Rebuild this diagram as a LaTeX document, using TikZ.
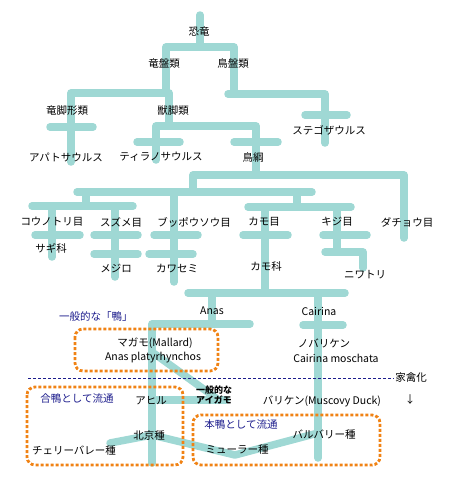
\documentclass[tikz,border=0pt]{standalone}
\usepackage{fontspec}
\setmainfont{Noto Sans CJK JP}
\usepackage{xcolor}
\definecolor{treec}{HTML}{9FD8D4}
\definecolor{dotc}{HTML}{F08214}
\definecolor{navy1}{HTML}{1C1C8C}
\tikzset{
  limb/.style={draw=treec, line width=7.5pt, line cap=round, line join=round},
  grp/.style={draw=dotc, line width=2.8pt, dash pattern=on 3pt off 2pt, rounded corners=8pt},
  lbl/.style={inner sep=0pt, font=\fontsize{10.5}{12}\selectfont},
  note/.style={lbl, text=navy1},
  small/.style={inner sep=0pt, align=center, font=\fontsize{9}{10.5}\selectfont\bfseries}}

\begin{document}
\begin{tikzpicture}[x=1pt, y=-1pt]
\useasboundingbox (0,0) rectangle (456,480);
% tree
\draw[limb] (200,15) -- (200,47);
\draw[limb] (166,93) -- (166,47) -- (234,47) -- (234,94);
\draw[limb] (228,94) -- (325,94) -- (325,143);
\draw[limb] (305,115) -- (347,115);
\draw[limb] (71,162) -- (71,93) -- (169,93) -- (169,126);
\draw[limb] (50,127) -- (93,127);
\draw[limb] (156,160) -- (156,126) -- (256,126) -- (256,175);
\draw[limb] (137,142) -- (180,142);
\draw[limb] (234,142) -- (278,142);
\draw[limb] (193,192) -- (193,175) -- (404,175) -- (404,238);
\draw[limb] (77,192) -- (312,192);
\draw[limb] (86,192) -- (86,206);
\draw[limb] (32,206) -- (133,206);
\draw[limb] (52,206) -- (52,257);
\draw[limb] (115,206) -- (115,277);
\draw[limb] (35,235) -- (80,235);
\draw[limb] (94,235) -- (138,235);
\draw[limb] (94,254) -- (138,254);
\draw[limb] (174,192) -- (174,282);
\draw[limb] (154,235) -- (198,235);
\draw[limb] (149,254) -- (193,254);
\draw[limb] (297,192) -- (297,207);
\draw[limb] (248,207) -- (351,207);
\draw[limb] (265,207) -- (265,293);
\draw[limb] (243,235) -- (288,235);
\draw[limb] (337,207) -- (337,252);
\draw[limb] (323,235) -- (367,235);
\draw[limb] (325,252) -- (363,252) -- (363,268);
\draw[limb] (188,293) -- (345,293);
\draw[limb] (212,293) -- (212,324);
\draw[limb] (152,463) -- (152,324) -- (250,324);
\draw[limb] (318,293) -- (318,458);
\draw[limb] (303,325) -- (343,325);
\draw[limb] (152,352) -- (216,398);
\draw[limb] (152,400) -- (226,400);
\draw[limb] (110,443) -- (152,435) -- (235,455) -- (318,433);
% groups
\draw[grp] (75,329) rectangle (218,371);
\draw[grp] (27,387) rectangle (183,465);
\draw[grp] (193,415) rectangle (380,465);
% labels
\node[lbl] (kyoryu) at (199,32) {恐竜};
\node[lbl] (ryuban) at (164,63) {竜盤類};
\node[lbl] (choban) at (233,63) {鳥盤類};
\node[lbl] (ryukyaku) at (67,111) {竜脚形類};
\node[lbl] (juukyaku) at (173,111) {獣脚類};
\node[lbl] (stego) at (329,130) {ステゴザウルス};
\node[lbl] (apato) at (66,157) {アパトサウルス};
\node[lbl] (tyranno) at (161,157) {ティラノサウルス};
\node[lbl] (chokou) at (253,157) {鳥綱};
\node[lbl] (kounotori) at (52,222) {コウノトリ目};
\node[lbl] (suzume) at (121,222) {スズメ目};
\node[lbl] (buppo) at (194,222) {ブッポウソウ目};
\node[lbl] (kamomoku) at (264,222) {カモ目};
\node[lbl] (kiji) at (337,222) {キジ目};
\node[lbl] (dacho) at (407,222) {ダチョウ目};
\node[lbl] (sagi) at (51,248) {サギ科};
\node[lbl] (mejiro) at (116,269) {メジロ};
\node[lbl] (kawasemi) at (177,269) {カワセミ};
\node[lbl] (kamoka) at (266,266) {カモ科};
\node[lbl] (niwatori) at (365,275) {ニワトリ};
\node[lbl] (anas) at (212,311) {Anas};
\node[lbl] (cairina) at (319,311) {Cairina};
\node[note] (ippan) at (96,317) {一般的な「鴨」};
\node[lbl] (magamo) at (155,343) {マガモ(Mallard)};
\node[lbl] (magamola) at (153,358) {Anas platyrhynchos};
\node[lbl] (nobari) at (324,343) {ノバリケン};
\node[lbl] (nobarila) at (336,358) {Cairina moschata};
\node[lbl] (dom) at (411,378) {家禽化};
\node[lbl] (domarr) at (410,400) {↓};
\node[note] (aikamo) at (77,399) {合鴨として流通};
\node[lbl] (ahiru) at (151,401) {アヒル};
\node[small] (aigamo) at (214,395) {一般的な\\アイガモ};
\node[lbl] (barike) at (322,401) {バリケン(Muscovy Duck)};
\node[note] (honkamo) at (241,424) {本鴨として流通};
\node[lbl] (pekin) at (149,435) {北京種};
\node[lbl] (barbary) at (324,435) {バルバリー種};
\node[lbl] (cherry) at (74,451) {チェリーバレー種};
\node[lbl] (mule) at (237,450) {ミューラー種};
\draw[navy1, line width=0.9pt, dash pattern=on 3pt off 2pt] (28,378) -- ([xshift=-2pt]dom.west);
\end{tikzpicture}
\end{document}
